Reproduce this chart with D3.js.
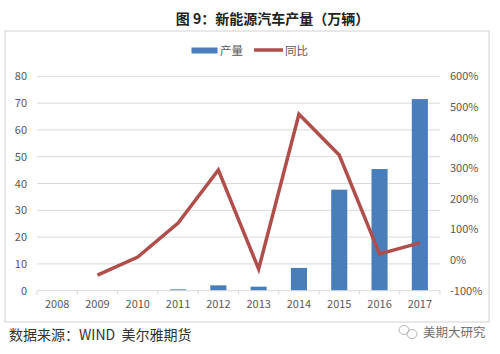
<!DOCTYPE html>
<html><head><meta charset="utf-8">
<script src="https://cdn.jsdelivr.net/npm/d3@7/dist/d3.min.js"></script>
<style>
html,body{margin:0;padding:0;background:#fff}
svg{display:block}
text{font-family:"Noto Sans CJK SC","Noto Sans",sans-serif}
</style></head><body>
<svg id="c" width="500" height="354"></svg>
<script>
const years=["2008","2009","2010","2011","2012","2013","2014","2015","2016","2017"];
const output=[0,0,0,0.5,2,1.5,8.5,37.7,45.4,71.5];
const yoy=[null,-49,10,121,294,-29,476,343,20,56];
const leftTicks=[0,10,20,30,40,50,60,70,80];
const rightTicks=[-100,0,100,200,300,400,500,600];
const titleText="图 9：新能源汽车产量（万辆）";
const sourceText="数据来源：WIND  美尔雅期货";
const markText="美期大研究";
const legendBar="产量", legendLine="同比";

const svg=d3.select("#c");
const L=37,R=440,T=76.3,B=290.7;
const x=d3.scaleBand().domain(years).range([L,R]).paddingInner(0.6).paddingOuter(0.3);
const band=d3.scaleBand().domain(years).range([L,R]);
const y=d3.scaleLinear().domain([0,80]).range([B,T]);
const y2=d3.scaleLinear().domain([-100,600]).range([B,T]);
const axisColor="#d9d9d9", labelColor="#595959", lineColor="#b04e4c";

svg.append("rect").attr("x",5).attr("y",31).attr("width",484).attr("height",291)
  .attr("fill","#fff").attr("stroke",axisColor).attr("stroke-width",1.2);

svg.append("text").attr("x",272.5).attr("y",24).attr("text-anchor","middle")
  .attr("font-size",14).attr("font-weight",700).attr("fill","#222").text(titleText);

// gridlines
svg.append("g").selectAll("line").data(leftTicks.filter(d=>d>0)).join("line")
  .attr("x1",L).attr("x2",R).attr("y1",d=>y(d)).attr("y2",d=>y(d))
  .attr("stroke",axisColor).attr("stroke-width",1);

// bars
svg.append("g").selectAll("rect").data(years).join("rect")
  .attr("x",d=>x(d)).attr("width",x.bandwidth())
  .attr("y",(d,i)=>y(output[i])).attr("height",(d,i)=>B-y(output[i]))
  .attr("fill","#4a7ebb");

// bottom axis
const gx=svg.append("g").attr("transform",`translate(0,${B})`)
  .call(d3.axisBottom(band).tickSize(0).tickPadding(10));
gx.select(".domain").attr("stroke",axisColor).attr("d",`M${L},0H${R}`);
gx.selectAll("text").attr("font-size",11).attr("fill",labelColor);
gx.selectAll("line.sep").data(d3.range(years.length+1)).join("line").attr("class","sep")
  .attr("x1",i=>L+i*band.step()).attr("x2",i=>L+i*band.step())
  .attr("y1",0).attr("y2",4).attr("stroke",axisColor);

const gl=svg.append("g").attr("transform",`translate(${L},0)`)
  .call(d3.axisLeft(y).tickValues(leftTicks).tickSize(0).tickPadding(10));
gl.select(".domain").remove();
gl.selectAll("text").attr("font-size",11).attr("fill",labelColor);

const gr=svg.append("g").attr("transform",`translate(${R},0)`)
  .call(d3.axisRight(y2).tickValues(rightTicks).tickFormat(d=>d+"%").tickSize(0).tickPadding(10));
gr.select(".domain").remove();
gr.selectAll("text").attr("font-size",11).attr("fill",labelColor);

// line
const line=d3.line().defined(d=>d.v!==null)
  .x(d=>band(d.k)+band.bandwidth()/2).y(d=>y2(d.v));
svg.append("path").datum(years.map((k,i)=>({k,v:yoy[i]})))
  .attr("d",line).attr("fill","none").attr("stroke",lineColor).attr("stroke-width",3.5);

// legend
svg.append("rect").attr("x",191.5).attr("y",47.5).attr("width",26).attr("height",6).attr("fill","#4a7ebb");
svg.append("text").attr("x",220).attr("y",54.5).attr("font-size",11.5).attr("fill",labelColor).text(legendBar);
svg.append("line").attr("x1",254).attr("x2",283).attr("y1",50).attr("y2",50).attr("stroke",lineColor).attr("stroke-width",3.5);
svg.append("text").attr("x",285).attr("y",54.5).attr("font-size",11.5).attr("fill",labelColor).text(legendLine);

// footer
svg.append("text").attr("x",9).attr("y",340).attr("font-size",14).attr("fill","#333").style("white-space","pre").text(sourceText);

// watermark
const wm=svg.append("g").attr("fill","none").attr("stroke","#b5b5b5").attr("stroke-width",1);
wm.append("ellipse").attr("cx",404).attr("cy",330).attr("rx",5).attr("ry",4.5);
wm.append("ellipse").attr("cx",412).attr("cy",334).attr("rx",5).attr("ry",4.5);
svg.append("text").attr("x",423).attr("y",337).attr("font-size",12.5).attr("fill","#6e6e6e").text(markText);
</script>
</body></html>
